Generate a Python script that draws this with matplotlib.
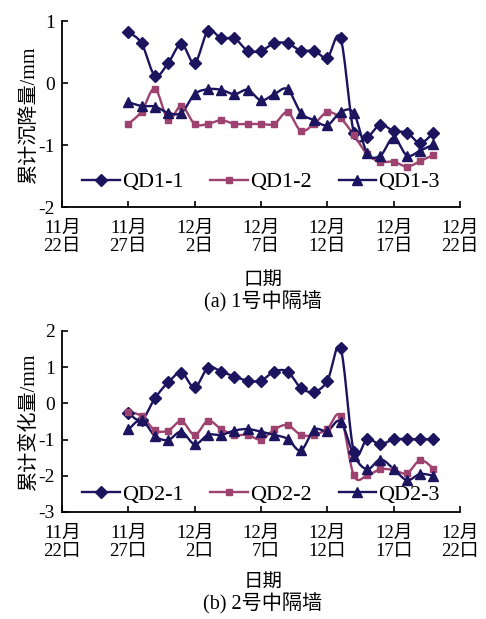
import numpy as np
import matplotlib
matplotlib.use("Agg")
import matplotlib.pyplot as plt
from matplotlib.lines import Line2D

plt.rcParams['font.family'] = ['Liberation Serif', 'Noto Sans CJK SC']
plt.rcParams['axes.unicode_minus'] = False

# ---- data (days counted from 11月22日) ----
days = np.arange(5, 29)  # 11月27日 .. 12月20日

qd1_1 = [0.82, 0.64, 0.12, 0.32, 0.63, 0.32, 0.84, 0.72, 0.72, 0.52, 0.52, 0.64,
         0.64, 0.52, 0.52, 0.41, 0.72, -0.80, -0.87, -0.67, -0.78, -0.80, -0.97, -0.80]
qd1_2 = [-0.66, -0.46, -0.09, -0.59, -0.37, -0.66, -0.66, -0.60, -0.66, -0.66, -0.66, -0.66,
         -0.47, -0.77, -0.66, -0.47, -0.57, -0.84, -1.15, -1.27, -1.27, -1.35, -1.26, -1.16]
qd1_3 = [-0.31, -0.37, -0.38, -0.48, -0.48, -0.18, -0.10, -0.11, -0.18, -0.11, -0.28, -0.18,
         -0.10, -0.48, -0.60, -0.68, -0.47, -0.49, -1.13, -1.17, -0.88, -1.17, -1.09, -0.99]

qd2_1 = [-0.27, -0.46, 0.14, 0.58, 0.85, 0.44, 0.99, 0.88, 0.74, 0.63, 0.63, 0.88,
         0.88, 0.43, 0.32, 0.62, 1.52, -1.33, -0.99, -1.13, -0.99, -0.99, -0.99, -0.99]
qd2_2 = [-0.23, -0.35, -0.74, -0.75, -0.49, -0.87, -0.48, -0.71, -0.87, -0.87, -1.00, -0.72,
         -0.60, -0.87, -0.87, -0.70, -0.35, -1.99, -1.99, -1.82, -1.84, -1.93, -1.57, -1.80]
qd2_3 = [-0.72, -0.46, -0.90, -1.01, -0.78, -1.13, -0.87, -0.87, -0.75, -0.71, -0.78, -0.87,
         -0.98, -1.30, -0.73, -0.76, -0.50, -1.44, -1.82, -1.55, -1.81, -2.12, -1.95, -2.00]

tick_days = [0, 5, 10, 15, 20, 25, 30]
tick_labels_a = ['11月\n22日', '11月\n27日', '12月\n2日', '12月\n7日',
                 '12月\n12日', '12月\n17日', '12月\n22日']
tick_labels_b = ['11月\n22口', '11月\n27口', '12月\n2口', '12月\n7口',
                 '12月\n12口', '12月\n17口', '12月\n22口']

NAVY = '#1d145f'
PINK = '#9e4270'


def smooth(x, y, n=16):
    x = np.asarray(x, float)
    y = np.asarray(y, float)
    P = np.column_stack([x, y])
    P = np.vstack([P[0], P, P[-1]])
    out = []
    for i in range(1, len(P) - 2):
        p0, p1, p2, p3 = P[i - 1], P[i], P[i + 1], P[i + 2]
        c1 = p1 + (p2 - p0) / 6.0
        c2 = p2 - (p3 - p1) / 6.0
        t = np.linspace(0, 1, n, endpoint=(i == len(P) - 3))[:, None]
        seg = ((1 - t) ** 3) * p1 + 3 * ((1 - t) ** 2) * t * c1 + 3 * (1 - t) * t ** 2 * c2 + t ** 3 * p2
        out.append(seg)
    out = np.vstack(out)
    return out[:, 0], out[:, 1]


fig = plt.figure(figsize=(4.86, 6.19), dpi=100)

W, H = 486.0, 619.0
ax_a = fig.add_axes([62 / W, 1 - 207 / H, 398 / W, 186 / H])
ax_b = fig.add_axes([62 / W, 1 - 512 / H, 398 / W, 181 / H])

styles = [('D', NAVY, 5.8), ('s', PINK, 5.0), ('^', NAVY, 7.2)]


def draw(ax, series, names, ylim, yticks, xlabels, leg_y):
    handles = []
    for vals, name, (mk, col, ms) in zip(series, names, styles):
        sx, sy = smooth(days, vals)
        ax.plot(sx, sy, color=col, lw=1.7, zorder=2)
        ax.plot(days, vals, ls='none', marker=mk, color=col, ms=ms, zorder=3)
        handles.append(Line2D([0], [0], color=col, lw=1.7, marker=mk, ms=ms))
    ax.set_xlim(0, 30)
    ax.set_ylim(*ylim)
    ax.set_yticks(yticks)
    ax.set_yticklabels([str(v) for v in yticks], fontsize=14)
    ax.set_xticks(tick_days)
    ax.set_xticklabels(xlabels, fontsize=13.5, multialignment='right', linespacing=1.12)
    ax.tick_params(direction='in', length=4, width=1.2)
    ax.tick_params(axis='x', pad=9)
    ax.tick_params(axis='y', pad=5)
    for s in ['top', 'right']:
        ax.spines[s].set_visible(False)
    for s in ['left', 'bottom']:
        ax.spines[s].set_linewidth(1.3)
    ax.legend(handles, names, ncol=3, loc='center', bbox_to_anchor=(0.5, leg_y),
              frameon=False, fontsize=16, handlelength=1.7, handletextpad=0.1,
              columnspacing=1.2, numpoints=1, borderaxespad=0)
    return ax


draw(ax_a, [qd1_1, qd1_2, qd1_3], ['QD1-1', 'QD1-2', 'QD1-3'], (-2, 1), [1, 0, -1, -2],
     tick_labels_a, 0.134)
ax_a.set_ylabel('累计沉降量/mm', fontsize=14.5, labelpad=0)
fig.text(263 / W, 1 - 280 / H, '口期', ha='center', va='center', fontsize=14)
fig.text(263 / W, 1 - 302 / H, '(a) 1号中隔墙', ha='center', va='center', fontsize=14.5)

draw(ax_b, [qd2_1, qd2_2, qd2_3], ['QD2-1', 'QD2-2', 'QD2-3'], (-3, 2), [2, 1, 0, -1, -2, -3],
     tick_labels_b, 0.094)
ax_b.set_ylabel('累计变化量/mm', fontsize=14.5, labelpad=0)
fig.text(263 / W, 1 - 582 / H, '日期', ha='center', va='center', fontsize=14)
fig.text(263 / W, 1 - 604 / H, '(b) 2号中隔墙', ha='center', va='center', fontsize=14.5)

fig.savefig('out.png', dpi=100)
